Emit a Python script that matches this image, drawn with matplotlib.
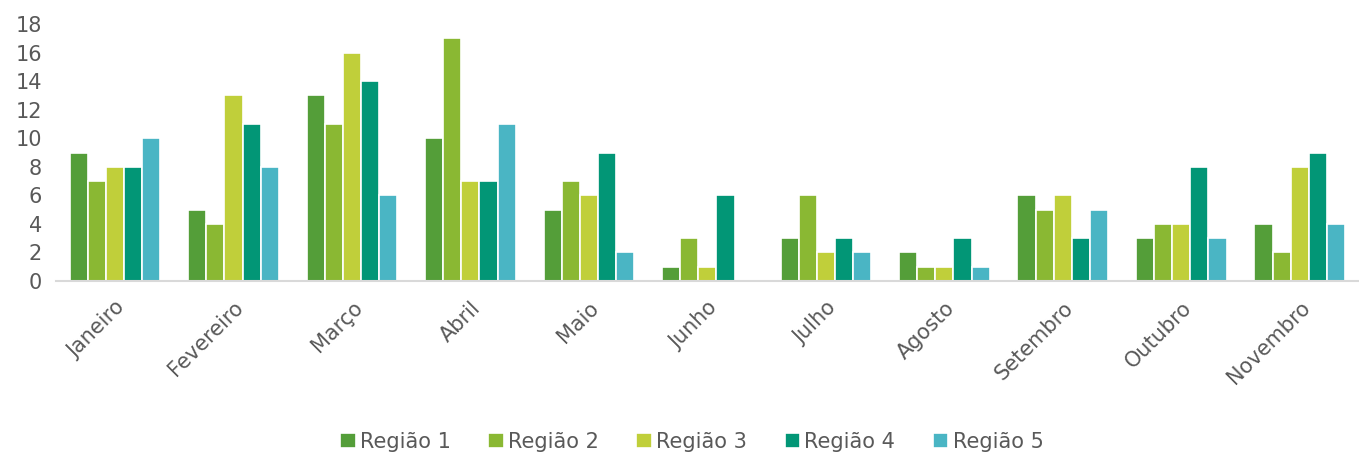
import matplotlib
matplotlib.use("Agg")
import matplotlib.pyplot as plt
import numpy as np

meses = ["Janeiro", "Fevereiro", "Março", "Abril", "Maio", "Junho", "Julho",
         "Agosto", "Setembro", "Outubro", "Novembro"]
regiao1 = [9, 5, 13, 10, 5, 1, 3, 2, 6, 3, 4]
regiao2 = [7, 4, 11, 17, 7, 3, 6, 1, 5, 4, 2]
regiao3 = [8, 13, 16, 7, 6, 1, 2, 1, 6, 4, 8]
regiao4 = [8, 11, 14, 7, 9, 6, 3, 3, 3, 8, 9]
regiao5 = [10, 8, 6, 11, 2, 0, 2, 1, 5, 3, 4]
series_names = ["Região 1", "Região 2", "Região 3", "Região 4", "Região 5"]
colors = ["#549E39", "#8AB833", "#C0CF3A", "#029676", "#4AB5C4"]
yticks = list(range(0, 19, 2))

plt.rcParams['font.family'] = ['DejaVu Sans']
fig = plt.figure(figsize=(13.59, 4.54), dpi=100)
ax = fig.add_axes([0.041, 0.381, 0.959, 0.566])

x = np.arange(len(meses))
slot = 0.153
series = [regiao1, regiao2, regiao3, regiao4, regiao5]
for i, (vals, name, c) in enumerate(zip(series, series_names, colors)):
    ax.bar(x + (i - 2) * slot, vals, width=slot, color=c, edgecolor="white",
           linewidth=1.2, label=name)

ax.set_xlim(-0.5, len(meses) - 0.5)
ax.set_ylim(0, 18)
ax.set_yticks(yticks)
ax.set_xticks(x)
ax.set_xticklabels(meses, rotation=45, ha="right", rotation_mode="anchor")
ax.tick_params(axis="both", length=0, labelsize=15, colors="#595959")
ax.tick_params(axis="x", pad=12)
ax.tick_params(axis="y", pad=10)
for s in ["top", "right", "left"]:
    ax.spines[s].set_visible(False)
ax.spines["bottom"].set_color("#D9D9D9")
ax.spines["bottom"].set_linewidth(1.5)

leg = fig.legend(loc="center", bbox_to_anchor=(0.509, 0.027), ncol=5, frameon=False,
                 fontsize=15, handlelength=0.75, handleheight=0.75, handletextpad=0.2,
                 columnspacing=1.8, labelcolor="#595959")

fig.savefig("out.png", dpi=100)
